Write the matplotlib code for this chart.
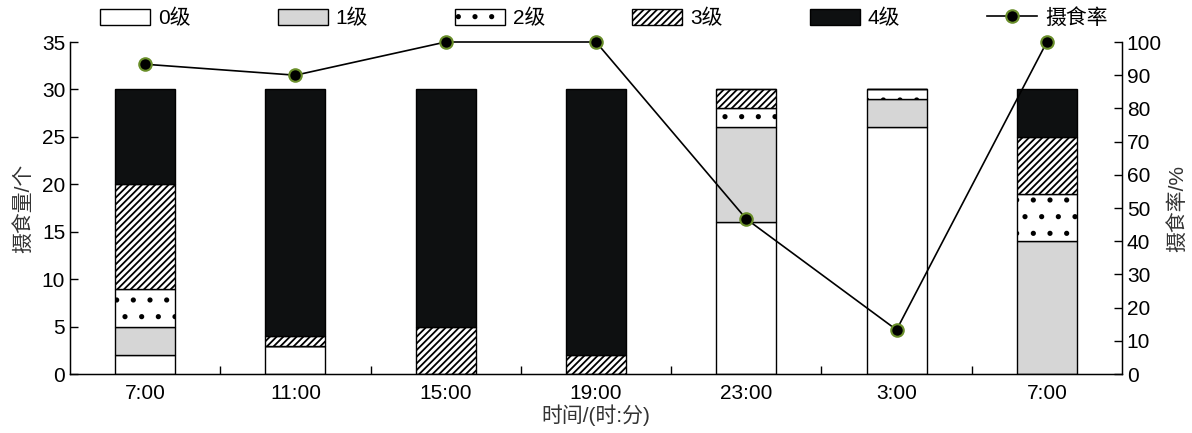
import matplotlib
matplotlib.use("Agg")
import matplotlib.pyplot as plt
import numpy as np
from matplotlib.lines import Line2D
from matplotlib.patches import Patch

plt.rcParams['font.family'] = ['Liberation Sans', 'Noto Sans CJK SC', 'DejaVu Sans']
plt.rcParams['hatch.linewidth'] = 1.3

categories = ['7:00', '11:00', '15:00', '19:00', '23:00', '3:00', '7:00']
grade0 = [2, 3, 0, 0, 16, 26, 0]
grade1 = [3, 0, 0, 0, 10, 3, 14]
grade2 = [4, 0, 0, 0, 2, 1, 5]
grade3 = [11, 1, 5, 2, 2, 0, 6]
grade4 = [10, 26, 25, 28, 0, 0, 5]
rate = [93.3, 90, 100, 100, 46.7, 13.3, 100]
series_names = ['0级', '1级', '2级', '3级', '4级']
line_name = '摄食率'

fig = plt.figure(figsize=(11.92, 4.33), dpi=100)
ax = fig.add_axes([70/1192, 1-374/433, (1122-70)/1192, (374-42)/433])
x = np.arange(len(categories))
w = 0.4

styles = [
    dict(color='white', hatch=None),
    dict(color='#d6d6d6', hatch=None),
    dict(color='white', hatch='.'),
    dict(color='white', hatch='/////'),
    dict(color='#0e1011', hatch=None),
]
data = [grade0, grade1, grade2, grade3, grade4]
bottom = np.zeros(len(categories))
handles = []
for vals, st, name in zip(data, styles, series_names):
    vals = np.array(vals, dtype=float)
    ax.bar(x, vals, w, bottom=bottom, color=st['color'], edgecolor='black',
           linewidth=1.0, hatch=st['hatch'], zorder=2)
    bottom += vals
    handles.append(Patch(facecolor=st['color'], edgecolor='black', hatch=st['hatch'],
                         linewidth=1.0, label=name))

FS = 15
ax.set_xlim(-0.5, 6.5)
ax.set_ylim(0, 35)
ax.set_yticks(range(0, 36, 5))
ax.set_xticks(x)
ax.set_xticklabels(categories)
ax.set_xticks(np.arange(0.5, 6, 1), minor=True)
ax.tick_params(axis='x', which='major', length=0, labelsize=FS, pad=7)
ax.tick_params(axis='x', which='minor', length=6, direction='in', width=1)
ax.tick_params(axis='y', direction='in', length=6, labelsize=FS, width=1)
ax.spines['top'].set_visible(False)
for s in ax.spines.values():
    s.set_linewidth(1.0)
ax.set_ylabel('摄食量/个', fontsize=FS, color='#333333', labelpad=6)
ax.set_xlabel('时间/(时:分)', fontsize=FS, color='#333333', labelpad=1)

ax2 = ax.twinx()
ax2.set_ylim(0, 100)
ax2.set_yticks(range(0, 101, 10))
ax2.tick_params(axis='y', direction='in', length=6, labelsize=FS, width=1)
ax2.spines['top'].set_visible(False)
ax2.plot(x, rate, color='black', linewidth=1.2, marker='o', markersize=9,
         markerfacecolor='black', markeredgecolor='#6a8f2a', markeredgewidth=1.5,
         zorder=5, clip_on=False)
ax2.set_ylabel('摄食率/%', fontsize=FS, color='#333333', labelpad=4)

lh = Line2D([], [], color='black', linewidth=1.2, marker='o', markersize=9,
            markerfacecolor='black', markeredgecolor='#6a8f2a', markeredgewidth=1.5, label=line_name)
handles.append(lh)
fig.legend(handles=handles, loc='center left', ncol=6, mode='expand',
           bbox_to_anchor=(100/1192, 1-18/433, (1108-100)/1192, 0.0), frameon=False,
           fontsize=FS, handlelength=2.4, handleheight=0.8, handletextpad=0.4,
           borderpad=0, borderaxespad=0)

fig.savefig('out.png', dpi=100)
